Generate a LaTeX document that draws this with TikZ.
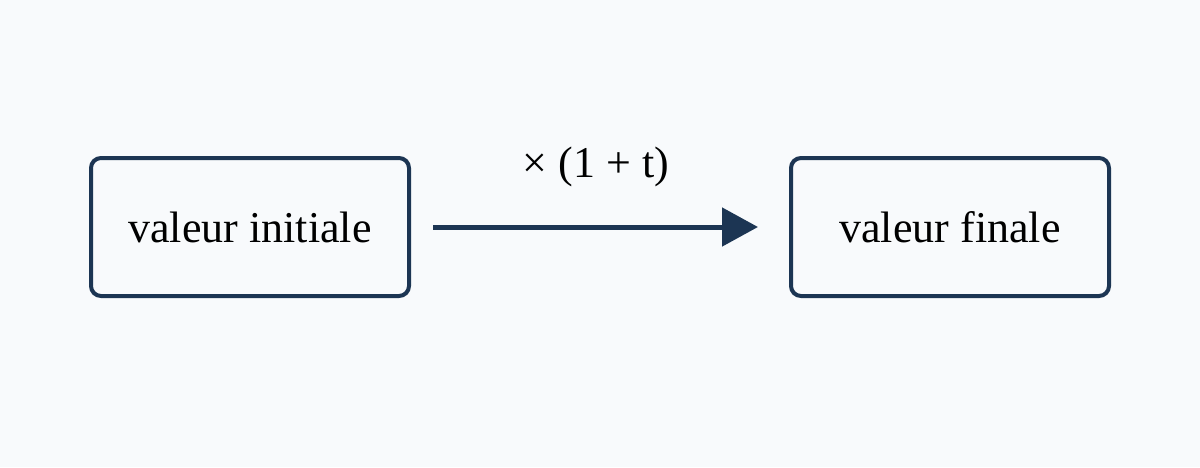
\documentclass[tikz,border=0pt]{standalone}
\usepackage{fontspec}
\setmainfont{Liberation Serif}
\usetikzlibrary{arrows.meta}
\definecolor{bg}{HTML}{F8FAFC}
\definecolor{ink}{HTML}{1C3553}
\begin{document}
\begin{tikzpicture}[x=1pt,y=-1pt,
  box/.style={draw=ink,line width=4pt,rounded corners=10pt,minimum width=318pt,minimum height=138pt,inner sep=0pt,font=\fontsize{44}{50}\selectfont,text=black},
  conn/.style={draw=ink,line width=5pt,-{Triangle[length=36pt,width=38pt]}}]
\fill[bg] (0,0) rectangle (1200,467);
\useasboundingbox (0,0) rectangle (1200,467);
\node[box] (a) at (250,227) {valeur initiale};
\node[box] (b) at (950,227) {valeur finale};
\coordinate (s) at (433,227);
\coordinate (e) at (758,227);
\draw[conn] (s) -- (e);
\node[font=\fontsize{44}{50}\selectfont] (l) at (596,167) {× (1 + t)};
\end{tikzpicture}
\end{document}
